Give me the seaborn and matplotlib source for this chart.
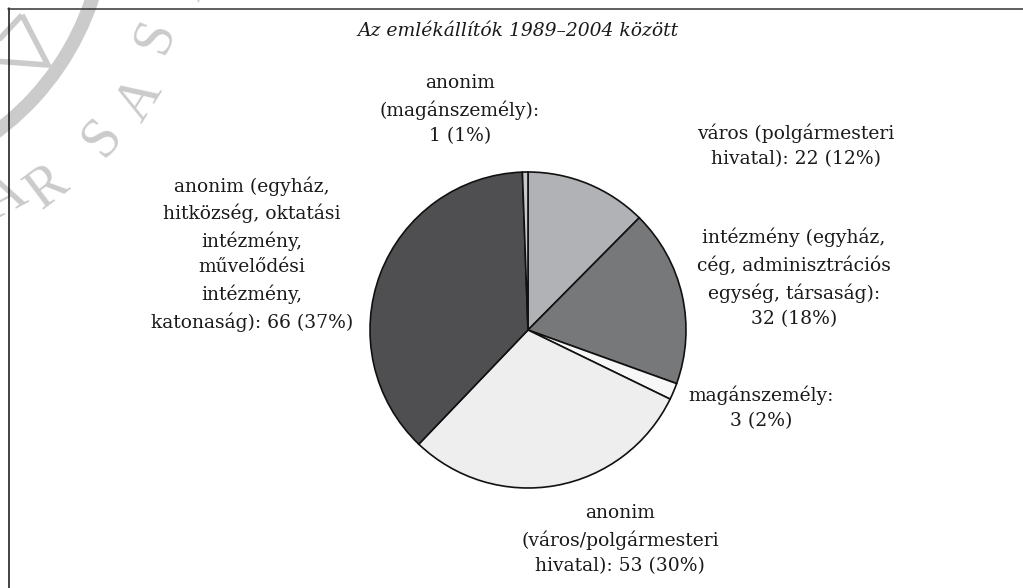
import matplotlib
matplotlib.use("Agg")
import matplotlib.pyplot as plt
import seaborn as sns
from matplotlib.lines import Line2D
from matplotlib.patches import Arc, Polygon

sns.set_theme(style="white")
plt.rcParams['font.family'] = ['DejaVu Serif']

# ---- data ----
title = "Az emlékállítók 1989–2004 között"
categories = [
    "város (polgármesteri\nhivatal)",
    "intézmény (egyház,\ncég, adminisztrációs\negység, társaság)",
    "magánszemély",
    "anonim\n(város/polgármesteri\nhivatal)",
    "anonim (egyház,\nhitközség, oktatási\nintézmény,\nművelődési\nintézmény,\nkatonaság)",
    "anonim\n(magánszemély)",
]
values = [22, 32, 3, 53, 66, 1]
percents = [12, 18, 2, 30, 37, 1]
label_breaks = [":\n", ":\n", ":\n", ": ", ": ", ":\n"]
colors = ["#b1b2b5", "#77787a", "#f7f7f7", "#eeeeee", "#4f4f51", "#c8c8c8"]

label_texts = [f"{c}{b}{v} ({p}%)" for c, b, v, p in zip(categories, label_breaks, values, percents)]
# first label keeps its value on the second line
label_texts[0] = f"{categories[0]}: {values[0]} ({percents[0]}%)"

W, H = 1023, 588
fig = plt.figure(figsize=(W / 100, H / 100), dpi=100)
ax = fig.add_axes([0, 0, 1, 1])

# watermark (stamp) in the top-left corner
wm = "#cbcbcb"
cx, cy = -167, H + 87
ax.add_patch(Arc((cx, cy), 2 * 273, 2 * 273, theta1=-75, theta2=-10,
                 color=wm, lw=10, zorder=0))
ax.add_patch(Polygon([(22, H - 15), (48, H - 65), (-20, H - 60)], closed=True,
                     fill=False, edgecolor=wm, lw=4, zorder=0))
for ch, (px, py), rot in [("Á", (6, 198), 28), ("R", (48, 188), 37),
                          ("S", (102, 138), 50), ("A", (140, 100), 58),
                          ("S", (155, 36), 69), ("Á", (190, -20), 79)]:
    ax.text(px, H - py, ch, color=wm, fontsize=40, family="Liberation Serif",
            rotation=rot, ha="center", va="center", zorder=0)

# pie
ax.pie(values, colors=colors, startangle=90, counterclock=False,
       center=(528, H - 330), radius=158,
       wedgeprops=dict(edgecolor="#111111", linewidth=1.2), frame=True)
ax.set_xlim(0, W)
ax.set_ylim(0, H)
ax.set_aspect("equal")
ax.axis("off")

label_pos = [(796, 146), (794, 278), (761, 408), (620, 540), (252, 254), (460, 110)]
for txt, (px, py) in zip(label_texts, label_pos):
    ax.text(px, H - py, txt, ha="center", va="center", multialignment="center",
            fontsize=13.5, color="#1a1a1a", linespacing=1.53)

ax.text(518, H - 31, title, ha="center", va="center", fontsize=13.5,
        style="italic", color="#1a1a1a")

# frame lines (partial box)
fig.add_artist(Line2D([8.5 / W, 8.5 / W], [0, 1 - 8 / H], color="#111111", lw=1.1))
fig.add_artist(Line2D([8 / W, 1], [1 - 8.5 / H, 1 - 8.5 / H], color="#333333", lw=1.1))

fig.savefig("out.png", dpi=100)
